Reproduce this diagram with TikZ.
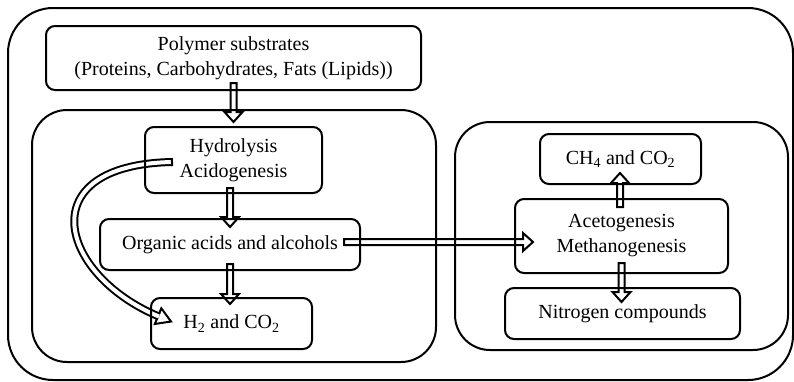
\documentclass[tikz,border=0pt]{standalone}
\usepackage{fontspec}
\setmainfont{Liberation Serif}
\usetikzlibrary{calc,backgrounds}
\tikzset{
  box/.style={draw, line width=2pt, rounded corners=9pt, inner sep=0pt, align=center,
    font=\fontsize{20}{25}\selectfont},
  group/.style={draw, line width=2pt, rounded corners=35pt, inner sep=0pt},
  arrowline/.style={draw, line width=2pt, line join=miter},
}
\newcommand\blockarrow[2]{%
  \coordinate (ba-h) at ($(#2)!10pt!(#1)$);
  \draw[arrowline] ($(#1)!3pt!90:(#2)$) -- ($(ba-h)!3pt!90:(#2)$) -- ($(ba-h)!9pt!90:(#2)$)
    -- (#2) -- ($(ba-h)!9pt!-90:(#2)$) -- ($(ba-h)!3pt!-90:(#2)$) -- ($(#1)!3pt!-90:(#2)$) -- cycle;}
\begin{document}
\begin{tikzpicture}[x=1pt,y=-1pt]
\useasboundingbox (0,0) rectangle (794,381);
% containers
\node[group, rounded corners=45pt, minimum width=785pt, minimum height=372pt] (outer) at (400.5,194) {};
\node[group, minimum width=404pt, minimum height=252pt] (leftg) at (234,236) {};
\node[group, minimum width=333pt, minimum height=228pt] (rightg) at (621.5,236) {};
% boxes
\node[box, minimum width=375pt, minimum height=64pt] (poly) at (233.5,58)
  {Polymer substrates\\(Proteins, Carbohydrates, Fats (Lipids))};
\node[box, minimum width=177pt, minimum height=66pt] (hyd) at (233.5,160) {Hydrolysis\\Acidogenesis};
\node[box, minimum width=260pt, minimum height=51pt] (org) at (230,244.5) {Organic acids and alcohols};
\node[box, minimum width=161pt, minimum height=51pt] (htwo) at (231.5,323.5)
  {H\textsubscript{2} and CO\textsubscript{2}};
\node[box, minimum width=161pt, minimum height=50pt] (chf) at (620.5,159)
  {CH\textsubscript{4} and CO\textsubscript{2}};
\node[box, minimum width=213pt, minimum height=74pt] (aceto) at (621.5,236) {Acetogenesis\\Methanogenesis};
\node[box, minimum width=235pt, minimum height=51pt] (nitro) at (622.5,313.5) {Nitrogen compounds};
% straight block arrows
\coordinate (a1s) at ($(poly.south)+(0,-8)$);
\coordinate (a1t) at ($(hyd.north)+(0,-4)$);
\blockarrow{a1s}{a1t}
\coordinate (a2s) at ($(hyd.south)+(-3.5,-6)$);
\coordinate (a2t) at ($(org.north)+(0,9)$);
\blockarrow{a2s}{a2t}
\coordinate (a3s) at ($(org.south)+(0,-7)$);
\coordinate (a3t) at ($(htwo.north)+(-1.5,7)$);
\blockarrow{a3s}{a3t}
\coordinate (a4s) at ($(org.east)+(-17,-2.5)$);
\coordinate (a4t) at ($(aceto.west)+(19,6)$);
\blockarrow{a4s}{a4t}
\coordinate (a5s) at ($(aceto.north)+(-1.5,9)$);
\coordinate (a5t) at ($(chf.south)+(-0.5,-12)$);
\blockarrow{a5s}{a5t}
\coordinate (a6s) at ($(aceto.south)+(0,-11)$);
\coordinate (a6t) at ($(nitro.north)+(-1,15)$);
\blockarrow{a6s}{a6t}
% curved block arrow (behind the boxes)
\coordinate (cs) at ($(hyd.west)+(28,2)$);
\coordinate (ct) at ($(htwo.west)+(21,-2)$);
\coordinate (cA) at ($(cs)+(-143,3)$);
\coordinate (cB) at ($(ct)+(-112,-46.5)$);
\coordinate (ce) at ($(ct)!14pt!(cB)$);
\coordinate (cee) at ($(ct)!13pt!(cB)$);
\begin{pgfonlayer}{background}
\draw[arrowline, fill=white] ($(ce)!8.5pt!90:(ct)$) -- (ct) -- ($(ce)!8.5pt!-90:(ct)$) -- cycle;
\draw[line width=2pt, double=white, double distance=4pt] (cs) .. controls (cA) and (cB) .. (cee);
\draw[line width=2pt] ($(cs)!4pt!90:(cA)$) -- ($(cs)!4pt!-90:(cA)$);
\end{pgfonlayer}
\end{tikzpicture}
\end{document}
